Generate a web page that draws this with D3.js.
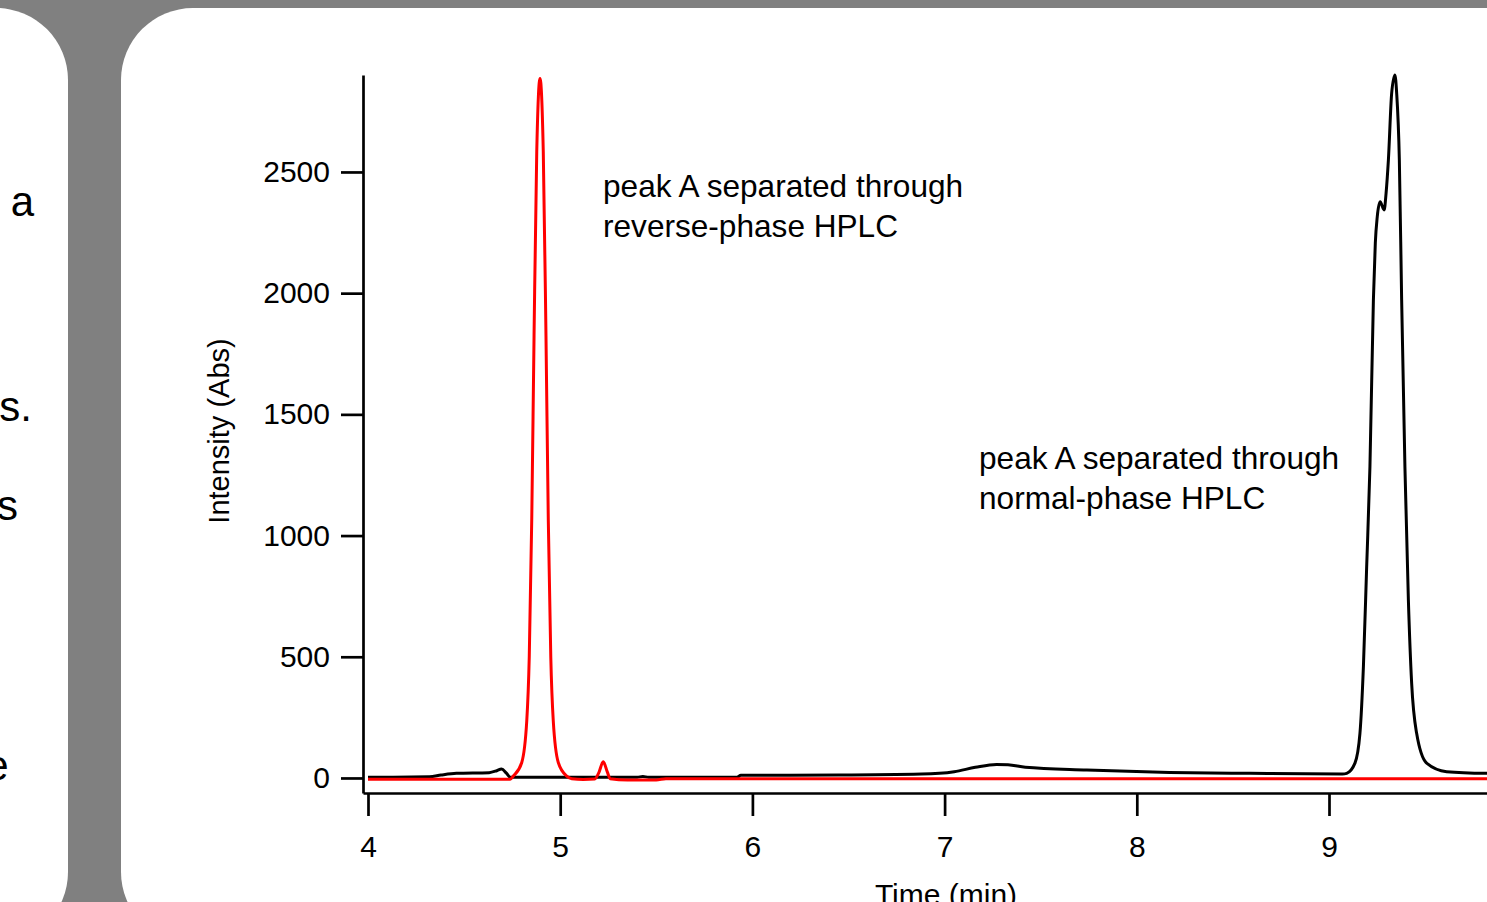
<!DOCTYPE html>
<html>
<head>
<meta charset="utf-8">
<script src="https://cdn.jsdelivr.net/npm/d3@7"></script>
<style>
  body { margin: 0; background: #808080; overflow: hidden; }
  svg { display: block; }
  text { font-family: "Liberation Sans", Arial, sans-serif; fill: #000; }
</style>
</head>
<body>
<div id="chart"></div>
<script>
// normal-phase HPLC trace (black)
var normalTime = [4.00, 4.32, 4.38, 4.46, 4.63, 4.67, 4.695, 4.72, 4.74, 5.40, 5.43, 5.46, 5.92, 5.94,
  6.45, 6.88, 7.05, 7.16, 7.27, 7.33, 7.42, 7.74, 8.17, 8.59, 9.07, 9.092, 9.135, 9.161, 9.179,
  9.196, 9.213, 9.231, 9.241, 9.251, 9.266, 9.287, 9.297, 9.309, 9.326, 9.343, 9.352, 9.366,
  9.378, 9.395, 9.413, 9.430, 9.456, 9.508, 9.612, 9.82, 9.95];
var normalValue = [3, 5, 12, 19, 22, 30, 37, 20, 3, 3, 6, 3, 3, 11,
  12, 16, 26, 44, 56, 55, 44, 33, 23, 19, 16, 19, 61, 184, 459,
  872, 1284, 1972, 2207, 2315, 2377, 2343, 2413, 2549, 2824, 2900, 2826, 2549,
  1972, 1284, 734, 391, 184, 61, 26, 19, 18];

// reverse-phase HPLC trace (red)
var reverseTime = [4.00, 4.74, 4.756, 4.800, 4.826, 4.839, 4.852, 4.864, 4.878, 4.895, 4.912,
  4.926, 4.938, 4.951, 4.964, 4.990, 5.034, 5.06, 5.12, 5.18, 5.20, 5.224, 5.245, 5.26,
  5.35, 5.50, 5.55, 9.95];
var reverseValue = [-5, -5, 8, 64, 235, 499, 1068, 1825, 2583, 2886, 2583,
  1825, 1068, 499, 235, 64, 8, -3, -6, -4, 20, 67, 25, -3,
  -8, -8, -3, -3];

var xTicks = [4, 5, 6, 7, 8, 9];
var yTicks = [0, 500, 1000, 1500, 2000, 2500];

var svg = d3.select("#chart").append("svg")
  .attr("width", 1487)
  .attr("height", 902);

// slide panels
svg.append("rect")
  .attr("x", -150).attr("y", 8)
  .attr("width", 218).attr("height", 936)
  .attr("rx", 72).attr("ry", 72)
  .style("fill", "#fff");
svg.append("rect")
  .attr("x", 121).attr("y", 8)
  .attr("width", 1500).attr("height", 936)
  .attr("rx", 72).attr("ry", 72)
  .style("fill", "#fff");

// clipped text of the left slide
var leftText = [["a", 34, 216], ["s.", 32, 421], ["s", 18, 520], ["e", 8.5, 780]];
svg.selectAll(".lefttext").data(leftText).enter()
  .append("text")
  .attr("class", "lefttext")
  .attr("x", function(d) { return d[1]; })
  .attr("y", function(d) { return d[2]; })
  .attr("text-anchor", "end")
  .style("font-size", "42px")
  .text(function(d) { return d[0]; });

var x = d3.scaleLinear()
  .domain([3.974, 10])
  .range([363, 363 + 6.026 * 192.2]);

var y = d3.scaleLinear()
  .domain([-62, 2900])
  .range([793, 75]);

var line = d3.line()
  .x(function(d) { return x(d[0]); })
  .y(function(d) { return y(d[1]); })
  .curve(d3.curveMonotoneX);

var normal = d3.zip(normalTime, normalValue);
var reverse = d3.zip(reverseTime, reverseValue);

var xAxis = svg.append("g")
  .attr("transform", "translate(0,793)")
  .call(d3.axisBottom(x).tickValues(xTicks).tickFormat(d3.format("d"))
    .tickSize(23).tickSizeOuter(0).tickPadding(20));

var yAxis = svg.append("g")
  .attr("transform", "translate(363,0)")
  .call(d3.axisLeft(y).tickValues(yTicks).tickFormat(d3.format("d"))
    .tickSize(22).tickSizeOuter(0).tickPadding(11));

[xAxis, yAxis].forEach(function(a) {
  a.selectAll("path, line").style("stroke", "#000").style("stroke-width", 2.7);
  a.selectAll("text").style("font-size", "30px").style("font-family", "Liberation Sans, Arial, sans-serif").style("fill", "#000");
});

svg.append("path")
  .datum(normal)
  .attr("d", line)
  .style("fill", "none")
  .style("stroke", "#000")
  .style("stroke-width", 3);

svg.append("path")
  .datum(reverse)
  .attr("d", line)
  .style("fill", "none")
  .style("stroke", "#ff0000")
  .style("stroke-width", 3);

// axis titles
svg.append("text")
  .attr("transform", "translate(229,431) rotate(-90)")
  .attr("text-anchor", "middle")
  .style("font-size", "29px")
  .text("Intensity (Abs)");

svg.append("text")
  .attr("x", 946)
  .attr("y", 905)
  .attr("text-anchor", "middle")
  .style("font-size", "30px")
  .text("Time (min)");

// annotations
var notes = [
  [603, 197, "peak A separated through"],
  [603, 237, "reverse-phase HPLC"],
  [979, 469, "peak A separated through"],
  [979, 509, "normal-phase HPLC"]
];
svg.selectAll(".note").data(notes).enter()
  .append("text")
  .attr("class", "note")
  .attr("x", function(d) { return d[0]; })
  .attr("y", function(d) { return d[1]; })
  .style("font-size", "31.6px")
  .text(function(d) { return d[2]; });
</script>
</body>
</html>
